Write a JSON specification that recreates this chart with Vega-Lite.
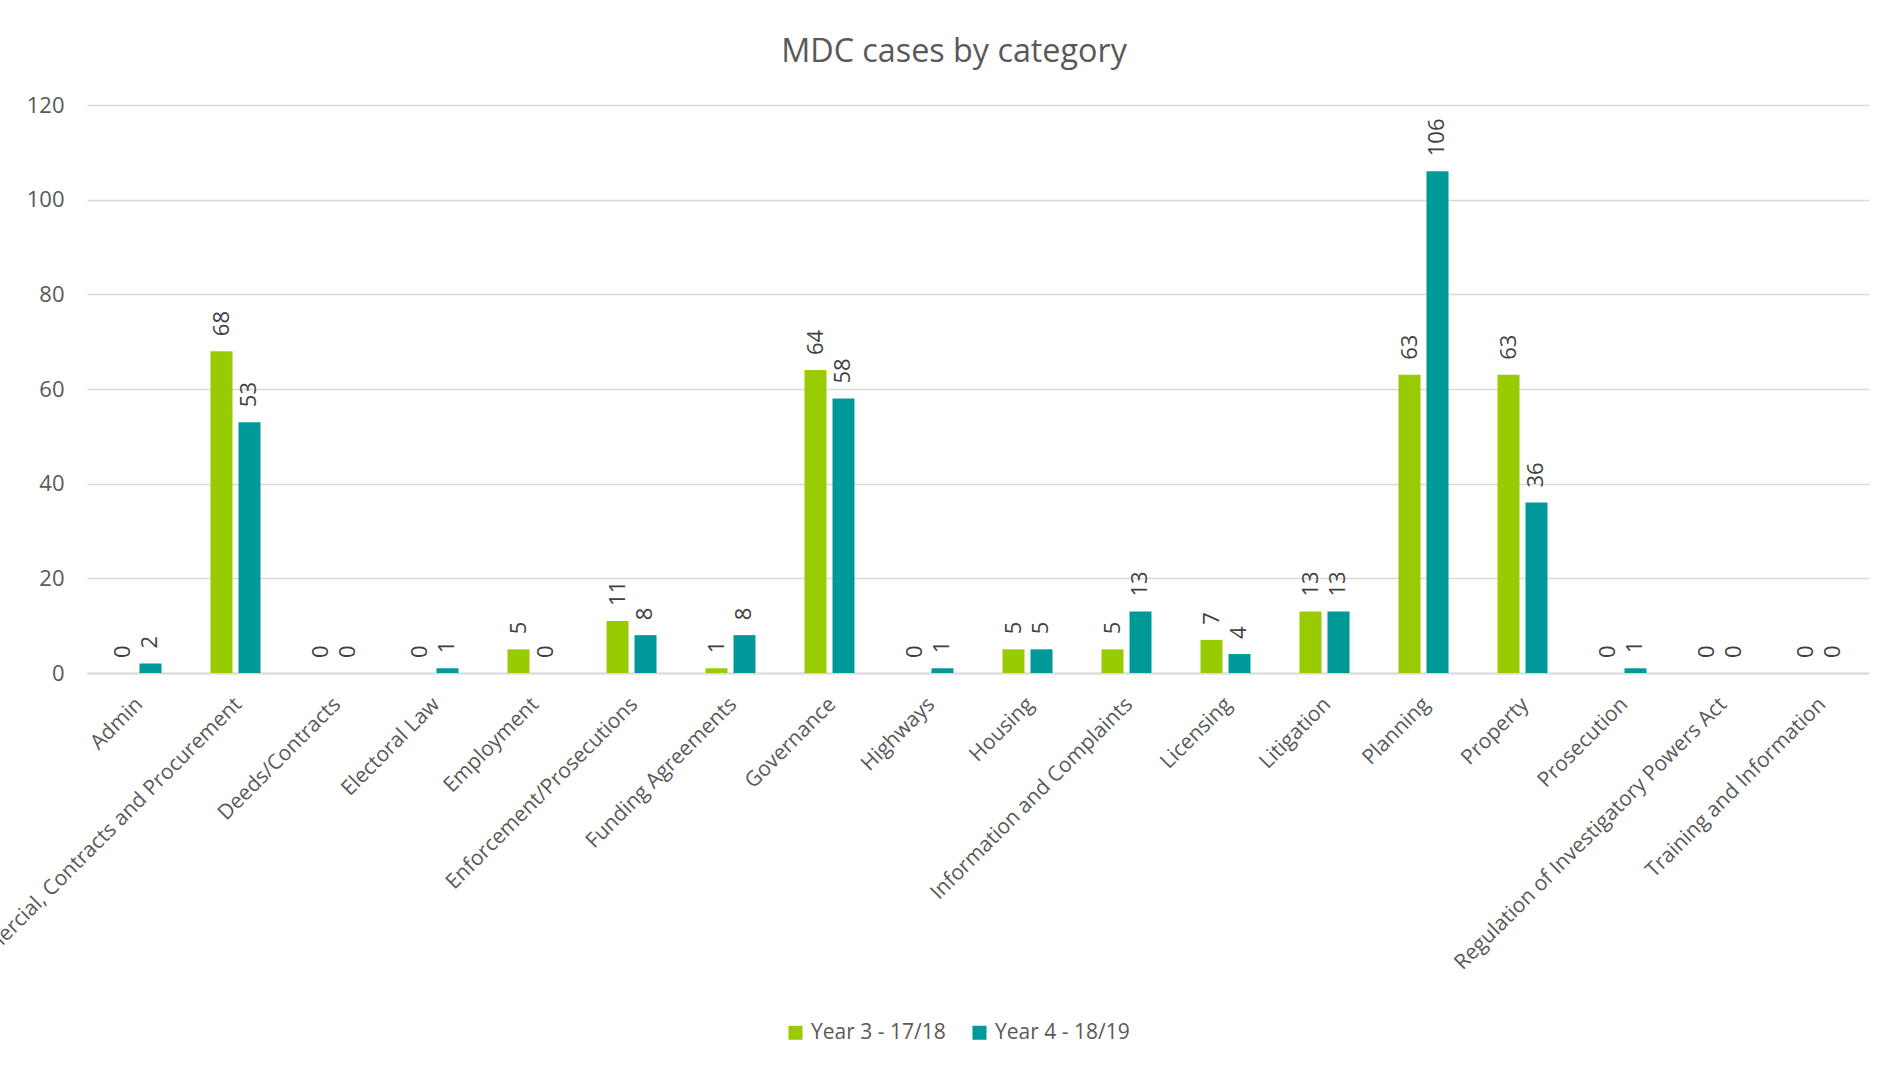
{
  "$schema": "https://vega.github.io/schema/vega-lite/v6.json",
  "autosize": {"type": "none"},
  "width": 1782,
  "height": 568,
  "padding": {"left": 87, "top": 105, "right": 29, "bottom": 393},
  "background": "#ffffff",
  "title": {
    "text": "MDC cases by category",
    "font": "Open Sans",
    "fontSize": 32.3,
    "fontWeight": "normal",
    "color": "#595959",
    "anchor": "middle",
    "frame": "group",
    "dx": -24,
    "baseline": "alphabetic",
    "offset": 0
  },
  "data": {
    "values": [
      {"category": "Admin", "year": "Year 3 - 17/18", "cases": 0},
      {"category": "Admin", "year": "Year 4 - 18/19", "cases": 2},
      {"category": "Commercial, Contracts and Procurement", "year": "Year 3 - 17/18", "cases": 68},
      {"category": "Commercial, Contracts and Procurement", "year": "Year 4 - 18/19", "cases": 53},
      {"category": "Deeds/Contracts", "year": "Year 3 - 17/18", "cases": 0},
      {"category": "Deeds/Contracts", "year": "Year 4 - 18/19", "cases": 0},
      {"category": "Electoral Law", "year": "Year 3 - 17/18", "cases": 0},
      {"category": "Electoral Law", "year": "Year 4 - 18/19", "cases": 1},
      {"category": "Employment", "year": "Year 3 - 17/18", "cases": 5},
      {"category": "Employment", "year": "Year 4 - 18/19", "cases": 0},
      {"category": "Enforcement/Prosecutions", "year": "Year 3 - 17/18", "cases": 11},
      {"category": "Enforcement/Prosecutions", "year": "Year 4 - 18/19", "cases": 8},
      {"category": "Funding Agreements", "year": "Year 3 - 17/18", "cases": 1},
      {"category": "Funding Agreements", "year": "Year 4 - 18/19", "cases": 8},
      {"category": "Governance", "year": "Year 3 - 17/18", "cases": 64},
      {"category": "Governance", "year": "Year 4 - 18/19", "cases": 58},
      {"category": "Highways", "year": "Year 3 - 17/18", "cases": 0},
      {"category": "Highways", "year": "Year 4 - 18/19", "cases": 1},
      {"category": "Housing", "year": "Year 3 - 17/18", "cases": 5},
      {"category": "Housing", "year": "Year 4 - 18/19", "cases": 5},
      {"category": "Information and Complaints", "year": "Year 3 - 17/18", "cases": 5},
      {"category": "Information and Complaints", "year": "Year 4 - 18/19", "cases": 13},
      {"category": "Licensing", "year": "Year 3 - 17/18", "cases": 7},
      {"category": "Licensing", "year": "Year 4 - 18/19", "cases": 4},
      {"category": "Litigation", "year": "Year 3 - 17/18", "cases": 13},
      {"category": "Litigation", "year": "Year 4 - 18/19", "cases": 13},
      {"category": "Planning", "year": "Year 3 - 17/18", "cases": 63},
      {"category": "Planning", "year": "Year 4 - 18/19", "cases": 106},
      {"category": "Property", "year": "Year 3 - 17/18", "cases": 63},
      {"category": "Property", "year": "Year 4 - 18/19", "cases": 36},
      {"category": "Prosecution", "year": "Year 3 - 17/18", "cases": 0},
      {"category": "Prosecution", "year": "Year 4 - 18/19", "cases": 1},
      {"category": "Regulation of Investigatory Powers Act", "year": "Year 3 - 17/18", "cases": 0},
      {"category": "Regulation of Investigatory Powers Act", "year": "Year 4 - 18/19", "cases": 0},
      {"category": "Training and Information", "year": "Year 3 - 17/18", "cases": 0},
      {"category": "Training and Information", "year": "Year 4 - 18/19", "cases": 0}
    ]
  },
  "encoding": {
    "x": {
      "field": "category",
      "type": "nominal",
      "sort": null,
      "title": null,
      "scale": {"paddingInner": 0.495, "paddingOuter": 0.2475},
      "axis": {
        "labelAngle": -45,
        "labelAlign": "right",
        "labelBaseline": "middle",
        "labelPadding": 28,
        "labelOffset": 3,
        "labelLimit": 0,
        "labelOverlap": false,
        "labelBound": false,
        "labelFont": "Open Sans",
        "labelFontSize": 21,
        "labelColor": "#595959",
        "ticks": false,
        "domain": true,
        "domainColor": "#d9d9d9",
        "domainWidth": 2,
        "grid": false
      }
    },
    "xOffset": {
      "field": "year",
      "type": "nominal",
      "scale": {"paddingInner": 0.214, "paddingOuter": 0}
    },
    "y": {
      "field": "cases",
      "type": "quantitative",
      "title": null,
      "scale": {"domain": [0, 120], "nice": false},
      "axis": {
        "values": [0, 20, 40, 60, 80, 100, 120],
        "domain": false,
        "ticks": false,
        "grid": true,
        "gridColor": "#d9d9d9",
        "gridWidth": 1.5,
        "labelPadding": 23,
        "labelFont": "Open Sans",
        "labelFontSize": 22,
        "labelColor": "#595959"
      }
    }
  },
  "layer": [
    {
      "mark": {"type": "bar"},
      "encoding": {
        "color": {
          "field": "year",
          "type": "nominal",
          "title": null,
          "scale": {"domain": ["Year 3 - 17/18", "Year 4 - 18/19"], "range": ["#99cc00", "#009999"]},
          "legend": {
            "orient": "none",
            "direction": "horizontal",
            "legendX": 698,
            "legendY": 917,
            "symbolType": "square",
            "symbolSize": 196,
            "symbolStrokeWidth": 0,
            "labelFont": "Open Sans",
            "labelFontSize": 21,
            "labelColor": "#595959",
            "labelOffset": 5,
            "columnPadding": 23,
            "padding": 0
          }
        }
      }
    },
    {
      "mark": {
        "type": "text",
        "angle": 270,
        "align": "left",
        "baseline": "middle",
        "dx": 15,
        "font": "Open Sans",
        "fontSize": 22,
        "color": "#404040"
      },
      "encoding": {
        "text": {"field": "cases", "type": "quantitative"}
      }
    }
  ],
  "config": {
    "view": {"stroke": null}
  }
}
